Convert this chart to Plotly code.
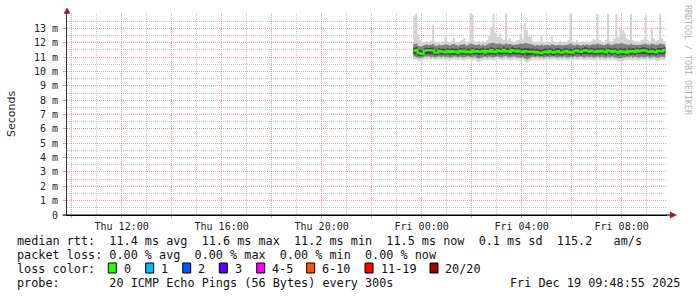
import plotly.graph_objects as go
import pandas as pd

# ---------------- data (milliseconds) ----------------
median_ms = [
    11.45, 11.50, 11.30, 11.25, 11.22, 11.45, 11.48, 11.48, 11.47, 11.48,
    11.32, 11.30, 11.45, 11.38, 11.40, 11.32, 11.45, 11.35, 11.42, 11.36,
    11.40, 11.30, 11.44, 11.38, 11.46, 11.35, 11.40, 11.33, 11.48, 11.37,
    11.42, 11.36, 11.40, 11.45, 11.30, 11.42, 11.38, 11.50, 11.40, 11.35,
    11.48, 11.42, 11.38, 11.52, 11.40, 11.45, 11.36, 11.50, 11.44, 11.38,
    11.46, 11.40, 11.35, 11.42, 11.38, 11.40, 11.36, 11.40, 11.33, 11.38,
    11.30, 11.28, 11.35, 11.40, 11.32, 11.45, 11.36, 11.30, 11.38, 11.42,
    11.35, 11.30, 11.40, 11.45, 11.33, 11.38, 11.30, 11.42, 11.48, 11.40,
    11.36, 11.44, 11.50, 11.45, 11.38, 11.46, 11.40, 11.35, 11.44, 11.38,
    11.46, 11.40, 11.32, 11.48, 11.42, 11.35, 11.45, 11.38, 11.30, 11.44,
    11.36, 11.40, 11.30, 11.45, 11.38, 11.42, 11.35, 11.48, 11.40, 11.44,
    11.50, 11.46, 11.40, 11.36, 11.44, 11.38, 11.32, 11.45, 11.42, 11.40, 11.50,
]

smoke_max = [
    13.90, 14.05, 12.60, 12.20, 12.00, 12.05, 12.10, 12.00, 12.15, 13.25,
    12.10, 12.00, 12.05, 11.95, 12.10, 12.55, 12.10, 12.00, 12.15, 12.35,
    12.05, 12.00, 12.10, 12.20, 12.35, 12.00, 12.10, 14.05, 13.95, 12.10,
    12.00, 12.15, 12.05, 12.10, 12.00, 12.20, 12.50, 13.10, 14.05, 12.70,
    12.40, 12.70, 12.30, 12.20, 14.05, 12.20, 12.30, 12.10, 12.00, 12.15,
    12.20, 12.60, 12.30, 13.40, 12.90, 12.50, 12.40, 12.10, 12.00, 12.05,
    12.10, 12.55, 12.00, 12.05, 12.10, 12.00, 12.50, 12.10, 12.00, 12.05,
    12.15, 12.00, 12.10, 12.05, 12.20, 14.05, 12.15, 12.00, 12.20, 12.05,
    12.00, 12.10, 12.05, 12.15, 12.00, 12.10, 12.30, 12.20, 14.00, 12.20,
    12.10, 12.05, 12.20, 14.00, 12.15, 12.10, 12.30, 14.00, 12.40, 13.00,
    12.90, 12.70, 12.30, 12.20, 14.00, 12.20, 12.10, 12.15, 12.05, 12.20,
    12.25, 13.90, 12.20, 12.10, 13.00, 12.30, 12.15, 12.20, 14.05, 12.30, 12.10,
]

smoke_min = [
    10.85, 10.80, 10.75, 10.70, 10.78, 10.85, 10.82, 10.88, 10.80, 10.85,
    10.78, 10.82, 10.86, 10.80, 10.84, 10.78, 10.82, 10.75, 10.80, 10.86,
    10.82, 10.78, 10.84, 10.80, 10.76, 10.82, 10.85, 10.80, 10.78, 10.84,
    10.72, 10.68, 10.75, 10.80, 10.82, 10.78, 10.84, 10.80, 10.76, 10.82,
    10.85, 10.80, 10.78, 10.82, 10.86, 10.80, 10.76, 10.82, 10.84, 10.80,
    10.78, 10.74, 10.80, 10.70, 10.62, 10.68, 10.76, 10.82, 10.80, 10.84,
    10.78, 10.82, 10.76, 10.80, 10.84, 10.78, 10.82, 10.86, 10.80, 10.76,
    10.82, 10.78, 10.84, 10.80, 10.76, 10.82, 10.78, 10.84, 10.80, 10.82,
    10.86, 10.80, 10.78, 10.84, 10.80, 10.82, 10.76, 10.80, 10.84, 10.78,
    10.82, 10.80, 10.76, 10.82, 10.78, 10.84, 10.80, 10.76, 10.72, 10.70,
    10.74, 10.78, 10.82, 10.80, 10.84, 10.78, 10.82, 10.80, 10.76, 10.82,
    10.78, 10.80, 10.84, 10.76, 10.80, 10.82, 10.78, 10.74, 10.80, 10.82, 10.80,
]

smoke_p10 = [
    11.05, 11.00, 10.95, 10.92, 10.98, 11.04, 11.02, 11.06, 11.00, 11.03,
    10.98, 11.02, 11.05, 11.00, 11.04, 10.98, 11.03, 10.96, 11.00, 11.05,
    11.02, 10.98, 11.04, 11.00, 10.97, 11.02, 11.05, 11.00, 10.98, 11.04,
    10.94, 10.90, 10.96, 11.00, 11.02, 10.98, 11.04, 11.00, 10.97, 11.02,
    11.05, 11.00, 10.98, 11.03, 11.06, 11.00, 10.97, 11.02, 11.04, 11.00,
    10.98, 10.95, 11.00, 10.92, 10.86, 10.90, 10.97, 11.02, 11.00, 11.04,
    10.98, 11.02, 10.96, 11.00, 11.04, 10.98, 11.02, 11.05, 11.00, 10.97,
    11.02, 10.98, 11.04, 11.00, 10.96, 11.02, 10.98, 11.04, 11.00, 11.02,
    11.05, 11.00, 10.98, 11.04, 11.00, 11.02, 10.96, 11.00, 11.04, 10.98,
    11.02, 11.00, 10.96, 11.02, 10.98, 11.04, 11.00, 10.96, 10.93, 10.92,
    10.95, 10.98, 11.02, 11.00, 11.04, 10.98, 11.02, 11.00, 10.96, 11.02,
    10.98, 11.00, 11.04, 10.96, 11.00, 11.02, 10.98, 10.95, 11.00, 11.02, 11.00,
]

smoke_p90 = [
    11.90, 11.95, 11.80, 11.75, 11.78, 11.85, 11.88, 11.84, 11.86, 11.92,
    11.82, 11.80, 11.86, 11.82, 11.85, 11.90, 11.86, 11.82, 11.88, 11.92,
    11.84, 11.80, 11.86, 11.88, 11.92, 11.82, 11.86, 11.95, 11.92, 11.85,
    11.84, 11.88, 11.82, 11.86, 11.80, 11.88, 11.95, 11.98, 12.00, 11.95,
    11.92, 11.96, 11.90, 11.88, 11.95, 11.90, 11.92, 11.86, 11.84, 11.88,
    11.90, 11.95, 11.92, 11.98, 11.96, 11.94, 11.90, 11.86, 11.82, 11.84,
    11.80, 11.88, 11.82, 11.84, 11.86, 11.82, 11.90, 11.86, 11.82, 11.84,
    11.86, 11.82, 11.85, 11.84, 11.88, 11.95, 11.86, 11.82, 11.88, 11.84,
    11.82, 11.86, 11.84, 11.88, 11.82, 11.86, 11.90, 11.88, 11.94, 11.90,
    11.86, 11.84, 11.88, 11.95, 11.86, 11.84, 11.90, 11.95, 11.92, 11.96,
    11.95, 11.92, 11.88, 11.86, 11.94, 11.88, 11.85, 11.86, 11.84, 11.88,
    11.90, 11.95, 11.88, 11.86, 11.94, 11.90, 11.86, 11.88, 11.95, 11.92, 11.88,
]

smoke_p25 = [
    11.20, 11.18, 11.10, 11.08, 11.10, 11.18, 11.20, 11.22, 11.18, 11.20,
    11.14, 11.15, 11.20, 11.16, 11.18, 11.14, 11.20, 11.14, 11.18, 11.16,
    11.18, 11.12, 11.20, 11.16, 11.20, 11.14, 11.18, 11.14, 11.20, 11.16,
    11.18, 11.14, 11.16, 11.20, 11.10, 11.18, 11.16, 11.20, 11.16, 11.14,
    11.22, 11.18, 11.16, 11.22, 11.18, 11.20, 11.14, 11.22, 11.20, 11.16,
    11.20, 11.16, 11.12, 11.18, 11.10, 11.14, 11.14, 11.18, 11.12, 11.16,
    11.10, 11.08, 11.14, 11.18, 11.12, 11.20, 11.14, 11.10, 11.16, 11.18,
    11.14, 11.10, 11.18, 11.20, 11.12, 11.16, 11.10, 11.18, 11.22, 11.18,
    11.14, 11.20, 11.22, 11.20, 11.16, 11.20, 11.18, 11.14, 11.20, 11.16,
    11.20, 11.18, 11.12, 11.22, 11.18, 11.14, 11.20, 11.16, 11.10, 11.20,
    11.14, 11.18, 11.10, 11.20, 11.16, 11.18, 11.14, 11.22, 11.18, 11.20,
    11.22, 11.20, 11.18, 11.14, 11.20, 11.16, 11.12, 11.20, 11.18, 11.18, 11.22,
]

smoke_p75 = [
    11.65, 11.70, 11.55, 11.50, 11.48, 11.62, 11.66, 11.64, 11.65, 11.66,
    11.55, 11.52, 11.64, 11.58, 11.60, 11.55, 11.64, 11.56, 11.62, 11.58,
    11.60, 11.52, 11.64, 11.60, 11.66, 11.56, 11.60, 11.58, 11.66, 11.58,
    11.62, 11.58, 11.60, 11.65, 11.52, 11.62, 11.60, 11.70, 11.62, 11.58,
    11.68, 11.62, 11.60, 11.72, 11.62, 11.66, 11.58, 11.70, 11.64, 11.60,
    11.66, 11.62, 11.58, 11.64, 11.62, 11.62, 11.58, 11.60, 11.55, 11.58,
    11.52, 11.50, 11.56, 11.62, 11.55, 11.66, 11.58, 11.52, 11.60, 11.64,
    11.58, 11.52, 11.62, 11.66, 11.55, 11.60, 11.52, 11.62, 11.68, 11.62,
    11.58, 11.64, 11.70, 11.66, 11.60, 11.66, 11.62, 11.58, 11.66, 11.60,
    11.66, 11.62, 11.55, 11.68, 11.64, 11.58, 11.66, 11.60, 11.55, 11.66,
    11.58, 11.62, 11.52, 11.66, 11.60, 11.64, 11.58, 11.68, 11.62, 11.66,
    11.70, 11.66, 11.62, 11.58, 11.66, 11.60, 11.55, 11.66, 11.64, 11.62, 11.70,
]

first_sample = "2025-12-18 23:40:00"
step_minutes = 5
view_start = "2025-12-18 09:48:55"
view_end = "2025-12-19 09:48:55"

y_tick_values = list(range(0, 14))
y_tick_labels = ["0"] + [f"{v} m" for v in range(1, 14)]

x_grid_major = pd.date_range("2025-12-18 10:00", "2025-12-19 08:00", freq="2h")
x_grid_minor = pd.date_range("2025-12-18 11:00", "2025-12-19 09:00", freq="2h")
x_label_map = {
    "2025-12-18 12:00": "Thu 12:00", "2025-12-18 16:00": "Thu 16:00",
    "2025-12-18 20:00": "Thu 20:00", "2025-12-19 00:00": "Fri 00:00",
    "2025-12-19 04:00": "Fri 04:00", "2025-12-19 08:00": "Fri 08:00",
}

loss_labels = ["0", "1", "2", "3", "4-5", "6-10", "11-19", "20/20"]
loss_colors = ["#26ff00", "#00b8ff", "#0059ff", "#5e00ff", "#ff00ff", "#ff5500", "#ff0000", "#a10000"]

legend_rows = [
    "median rtt:  11.4 ms avg  11.6 ms max  11.2 ms min  11.5 ms now  0.1 ms sd  115.2   am/s",
    "packet loss: 0.00 % avg  0.00 % max  0.00 % min  0.00 % now",
    "loss color:",
    "probe:       20 ICMP Echo Pings (56 Bytes) every 300s",
]
stamp = "Fri Dec 19 09:48:55 2025"

# ---------------- layout geometry (pixels) ----------------
FW, FH = 697, 297
L, R, T, B = 67, 667, 13, 215
W, H = R - L, B - T
Y_TOP = H / 14.35

def px(x):
    return (x - L) / W

def py(y):
    return (B - y) / H

def nb(s):
    return s.replace(" ", "\u00a0")

MONO = "DejaVu Sans Mono"
MAJ = "rgba(224,80,80,0.55)"
MIN = "rgba(140,140,140,0.5)"

times = list(pd.date_range(first_sample, periods=len(median_ms), freq=f"{step_minutes}min"))
xs = times + [times[-1] + pd.Timedelta(minutes=step_minutes)]

def ext(a):
    return list(a) + [a[-1]]

fig = go.Figure()

bands = [
    (smoke_min, smoke_max, "#d4d4d4"),
    (smoke_p10, smoke_p90, "#808080"),
    (smoke_p25, smoke_p75, "#484848"),
]
for lo, hi, col in bands:
    fig.add_trace(go.Scatter(x=xs, y=ext(lo), mode="lines", line=dict(width=0, shape="hv"),
                             showlegend=False, hoverinfo="skip"))
    fig.add_trace(go.Scatter(x=xs, y=ext(hi), mode="lines", line=dict(width=0, shape="hv"),
                             fill="tonexty", fillcolor=col, showlegend=False, hoverinfo="skip"))

fig.add_trace(go.Scatter(x=xs, y=ext(median_ms), mode="lines",
                         line=dict(color=loss_colors[0], width=2, shape="hv"),
                         showlegend=False, hoverinfo="skip"))

x_ticktext = [x_label_map.get(t.strftime("%Y-%m-%d %H:%M"), "") for t in x_grid_major]

fig.update_layout(
    template="none",
    width=FW, height=FH,
    margin=dict(l=L, r=FW - R, t=T, b=FH - B, pad=0),
    paper_bgcolor="white", plot_bgcolor="white",
    showlegend=False,
    xaxis=dict(
        type="date", range=[view_start, view_end], automargin=False,
        tickmode="array", tickvals=list(x_grid_major), ticktext=x_ticktext,
        showgrid=True, gridcolor=MAJ, griddash="1px,1px", gridwidth=1,
        ticks="outside", ticklen=2, tickcolor=MAJ, ticklabelstandoff=0,
        tickfont=dict(family=MONO, size=10, color="#222"),
        minor=dict(tickmode="array", tickvals=list(x_grid_minor), showgrid=True,
                   gridcolor=MIN, griddash="1px,1px", ticks=""),
        showline=True, linecolor="#000", linewidth=1, zeroline=False,
    ),
    yaxis=dict(
        range=[0, Y_TOP], automargin=False,
        tickmode="array", tickvals=y_tick_values, ticktext=y_tick_labels,
        showgrid=True, gridcolor=MAJ, griddash="1px,1px", gridwidth=1,
        ticks="outside", ticklen=3, tickcolor=MAJ, ticklabelstandoff=3,
        tickfont=dict(family=MONO, size=10, color="#222"),
        minor=dict(tickmode="array", tickvals=[v + 0.5 for v in y_tick_values], showgrid=True,
                   gridcolor=MIN, griddash="1px,1px", ticks=""),
        showline=True, linecolor="#333", linewidth=1, zeroline=False,
    ),
)

ann = []
ann.append(dict(x=px(11), y=py(114), xref="paper", yref="paper", text="Seconds",
                textangle=-90, showarrow=False, xanchor="center", yanchor="middle",
                font=dict(family="DejaVu Sans", size=11, color="#222")))
ann.append(dict(x=px(688), y=py(60), xref="paper", yref="paper", text=nb("RRDTOOL / TOBI OETIKER"),
                textangle=90, showarrow=False, xanchor="center", yanchor="middle",
                font=dict(family=MONO, size=8.3, color="#b4b4b4")))

row_y = [241, 255, 269, 283]
for txt, yy in zip(legend_rows, row_y):
    ann.append(dict(x=px(15), y=py(yy), xref="paper", yref="paper", text=nb(txt),
                    showarrow=False, xanchor="left", yanchor="middle",
                    font=dict(family=MONO, size=11.8, color="#111")))
ann.append(dict(x=px(681.5), y=py(283), xref="paper", yref="paper", text=nb(stamp),
                showarrow=False, xanchor="right", yanchor="middle",
                font=dict(family=MONO, size=11.8, color="#111")))

box_x = [108.3, 145.7, 182.7, 219.3, 256.7, 306.7, 365.0, 430.0]
shapes = []
for bx, lab, col in zip(box_x, loss_labels, loss_colors):
    shapes.append(dict(type="rect", xref="paper", yref="paper",
                       x0=px(bx), x1=px(bx + 8), y0=py(273), y1=py(263),
                       fillcolor=col, line=dict(color="#000", width=1)))
    ann.append(dict(x=px(bx + 13.5), y=py(269), xref="paper", yref="paper", text=nb(lab),
                    showarrow=False, xanchor="left", yanchor="middle",
                    font=dict(family=MONO, size=11.8, color="#111")))

# axis extension and arrow heads
shapes.append(dict(type="line", xref="paper", yref="paper", x0=px(62.5), x1=px(670), y0=py(B), y1=py(B),
                   line=dict(color="#000", width=1)))
shapes.append(dict(type="path", xref="paper", yref="paper",
                   path=f"M {px(64)},{py(13.5)} L {px(70)},{py(13.5)} L {px(67)},{py(8)} Z",
                   fillcolor="#a01818", line=dict(color="#a01818", width=0.5)))
shapes.append(dict(type="path", xref="paper", yref="paper",
                   path=f"M {px(670)},{py(212)} L {px(670)},{py(218)} L {px(676.5)},{py(215)} Z",
                   fillcolor="#a01818", line=dict(color="#a01818", width=0.5)))

fig.update_layout(annotations=ann, shapes=shapes)
fig.write_html("out.html")
